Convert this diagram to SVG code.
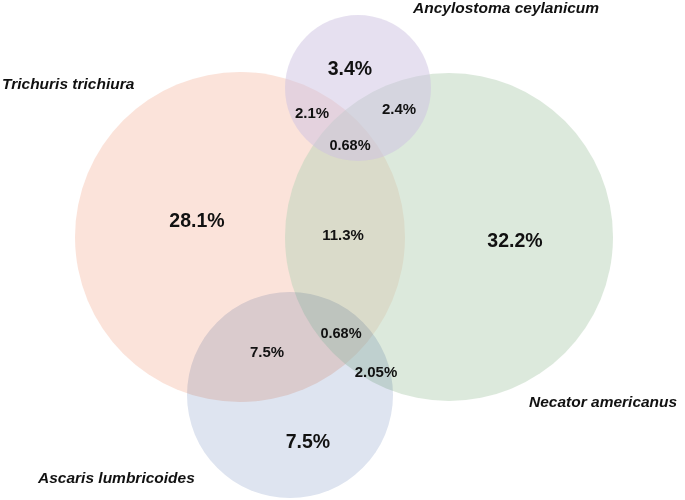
<svg xmlns="http://www.w3.org/2000/svg" width="685" height="500" viewBox="0 0 685 500">
<style>
.c{fill-opacity:0.5;stroke:none}
.m{stroke:none;mix-blend-mode:multiply}
.lbl{font-family:"Liberation Sans",Arial,sans-serif;font-weight:bold;font-style:italic;font-size:15.5px;fill:#111}
.big{font-family:"Liberation Sans",Arial,sans-serif;font-weight:bold;font-size:19.5px;fill:#111;text-anchor:middle}
.sm{font-family:"Liberation Sans",Arial,sans-serif;font-weight:bold;font-size:15px;fill:#111;text-anchor:middle}
.xs{font-family:"Liberation Sans",Arial,sans-serif;font-weight:bold;font-size:14.5px;fill:#111;text-anchor:middle}
</style>
<rect width="685" height="500" fill="#ffffff"/>
<g id="trichuris">
<circle class="c" cx="240" cy="237" r="165" fill="#f8c8b6"/>
</g>
<g id="necator">
<circle class="c" cx="449" cy="237" r="164" fill="#bad4ba"/>
</g>
<g id="ancylostoma">
<circle class="c" cx="358" cy="88" r="73" fill="#cdc2e2"/>
</g>
<g id="ascaris">
<circle class="m" cx="290" cy="395" r="103" fill="#dee4f0"/>
</g>
<g id="connectors"></g>
<g id="labels">
<text class="lbl" x="413" y="13">Ancylostoma ceylanicum</text>
<text class="lbl" x="2" y="89">Trichuris trichiura</text>
<text class="lbl" x="529" y="407">Necator americanus</text>
<text class="lbl" x="38" y="483">Ascaris lumbricoides</text>
</g>
<g id="values">
<text class="big" x="350" y="75">3.4%</text>
<text class="sm" x="312" y="118">2.1%</text>
<text class="sm" x="399" y="114">2.4%</text>
<text class="xs" x="350" y="150">0.68%</text>
<text class="big" x="197" y="227">28.1%</text>
<text class="sm" x="343" y="240">11.3%</text>
<text class="big" x="515" y="247">32.2%</text>
<text class="xs" x="341" y="338">0.68%</text>
<text class="sm" x="267" y="357">7.5%</text>
<text class="sm" x="376" y="377">2.05%</text>
<text class="big" x="308" y="448">7.5%</text>
</g>
</svg>
